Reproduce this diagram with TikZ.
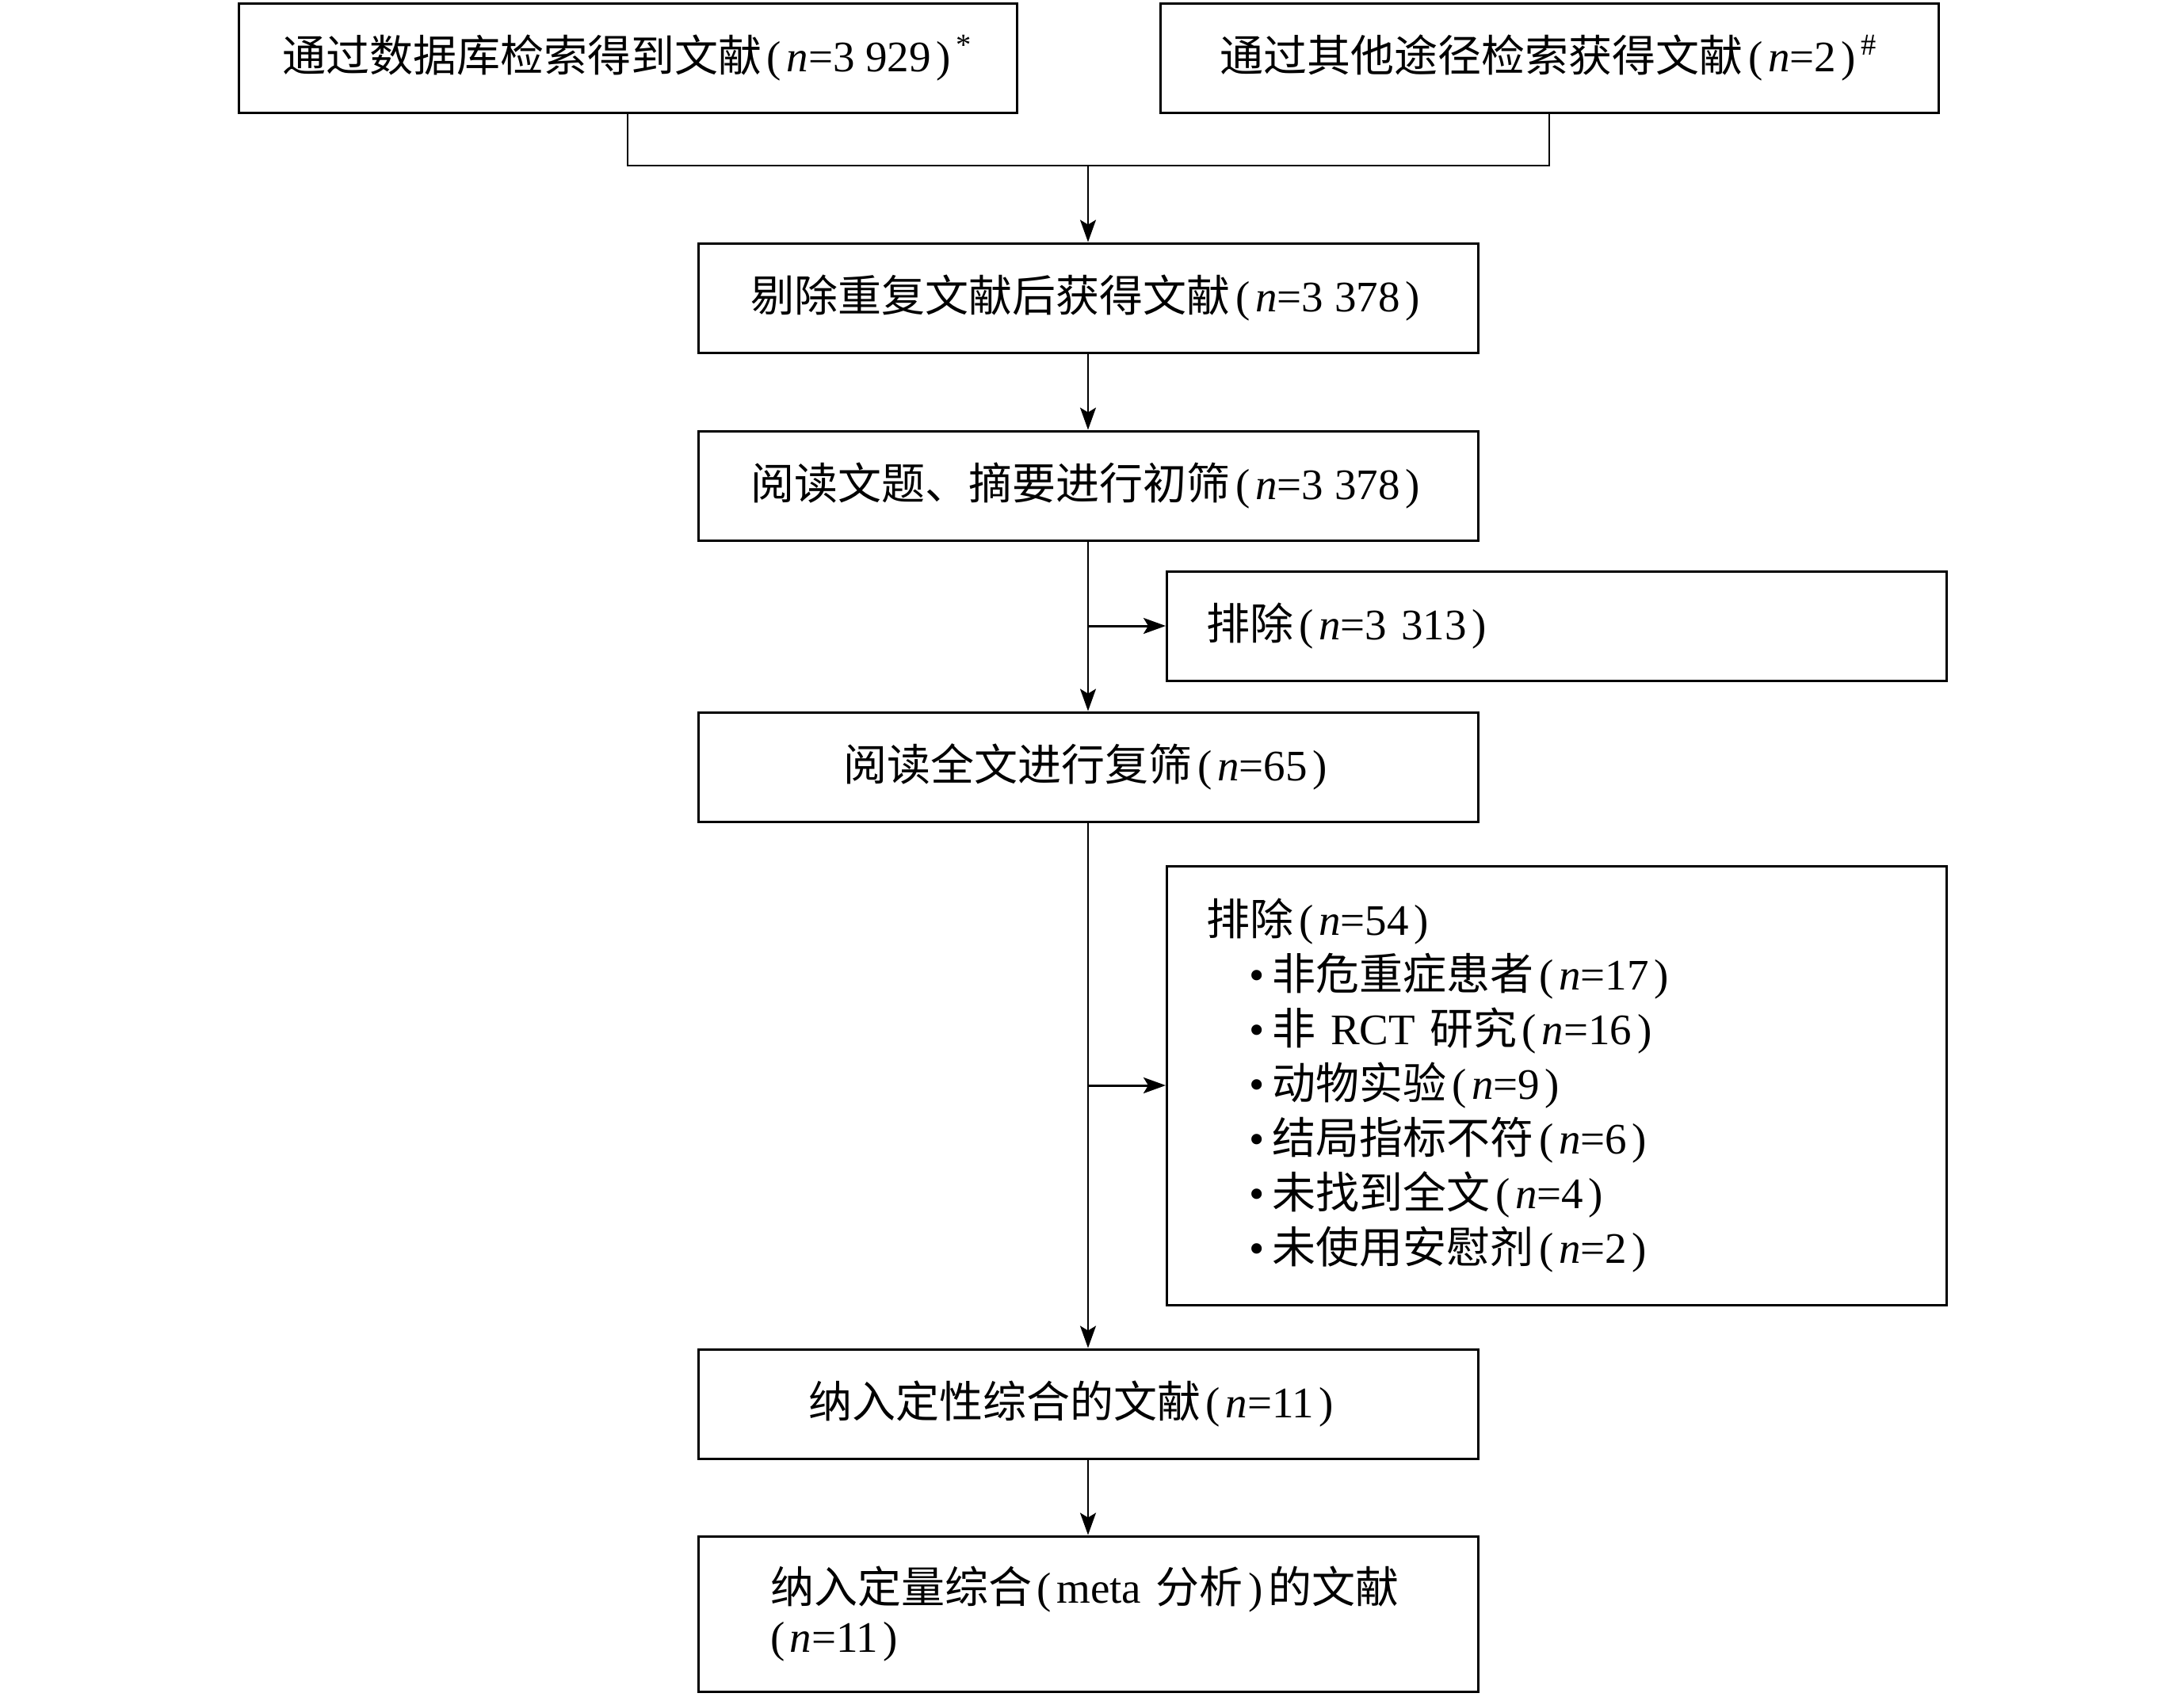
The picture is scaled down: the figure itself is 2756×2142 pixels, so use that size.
\documentclass[tikz,border=0pt]{standalone}
\usepackage{fontspec}
\setmainfont{Liberation Serif}
\newfontfamily\cjk{Noto Sans CJK SC}
\usetikzlibrary{arrows.meta}
\newcommand\LP{\kern0.12em(\kern0.12em}
\newcommand\RP{\kern0.12em)\kern0.12em}
\newcommand\nn{\textit{n}=}
\newcommand\bul{\hspace*{13.5pt}\textbullet\hspace{2.5pt}}
\begin{document}
\begin{tikzpicture}[x=0.25pt,y=-0.25pt,
  txt/.style={font=\fontsize{13.75pt}{17.25pt}\selectfont},
  box/.style={draw, line width=0.75pt, txt, minimum width=246pt, minimum height=34.5pt, inner sep=0pt, align=center},
  lbox/.style={box, inner xsep=12.5pt, text width=221pt, align=left},
  arr/.style={line width=0.55pt, -{Stealth[length=7pt,width=5pt,inset=1.5pt]}},
  barr/.style={line width=0.75pt, -{Stealth[length=7pt,width=5pt,inset=1.5pt]}},
  ln/.style={line width=0.55pt}
]
\useasboundingbox (0,0) rectangle (2756,2142);

\node[box, minimum width=245.5pt] (b1) at (792,73) {{\cjk 通过数据库检索得到文献}\LP\nn 3 929\RP\textsuperscript{*}};
\node[box, minimum width=245.5pt] (b2) at (1955,73) {{\cjk 通过其他途径检索获得文献}\LP\nn 2\RP\textsuperscript{\#}};
\node[box] (b3) at (1373,376) {{\cjk 剔除重复文献后获得文献}\LP\nn 3 378\RP};
\node[box] (b4) at (1373,613) {{\cjk 阅读文题、摘要进行初筛}\LP\nn 3 378\RP};
\node[lbox] (e1) at (1964.5,790) {{\cjk 排除}\LP\nn 3 313\RP};
\node[box] (b5) at (1373,968) {{\cjk 阅读全文进行复筛}\LP\nn 65\RP};
\node[lbox, minimum height=138.5pt] (e2) at (1964.5,1370) {{\cjk 排除}\LP\nn 54\RP\\
\bul{\cjk 非危重症患者}\LP\nn 17\RP\\
\bul{\cjk 非} RCT {\cjk 研究}\LP\nn 16\RP\\
\bul{\cjk 动物实验}\LP\nn 9\RP\\
\bul{\cjk 结局指标不符}\LP\nn 6\RP\\
\bul{\cjk 未找到全文}\LP\nn 4\RP\\
\bul{\cjk 未使用安慰剂}\LP\nn 2\RP};
\node[box] (b6) at (1373,1772) {{\cjk 纳入定性综合的文献}\LP\nn 11\RP\hspace*{9pt}};
\node[box, minimum height=49pt, inner xsep=22.75pt, text width=200.5pt, align=left, font=\fontsize{13.75pt}{17pt}\selectfont] (b7) at (1373,2037) {{\cjk 纳入定量综合}\LP meta~{\cjk 分析}\RP{\cjk 的文献}\\\kern-0.12em(\kern0.12em\nn 11\RP};

\coordinate (j) at (1373,209);
\draw[ln] (b1.south) |- (j) -| (b2.south);
\draw[arr] (j) -- (b3.north);
\draw[arr] (b3.south) -- (b4.north);
\draw[arr] (b4.south) -- (b5.north);
\draw[barr] (b4.south |- e1.west) -- (e1.west);
\draw[arr] (b5.south) -- (b6.north);
\draw[barr] (b5.south |- e2.west) -- (e2.west);
\draw[arr] (b6.south) -- (b7.north);
\end{tikzpicture}
\end{document}
